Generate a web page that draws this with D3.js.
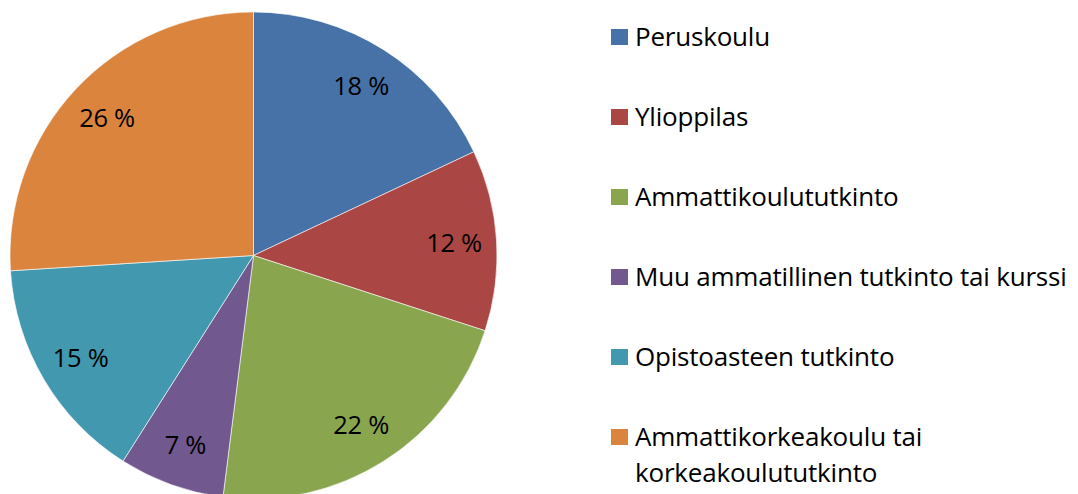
<!DOCTYPE html>
<html><head><meta charset="utf-8">
<script src="https://cdn.jsdelivr.net/npm/d3@7"></script>
<style>body{margin:0;background:#fff;}svg{display:block;}</style>
</head><body>
<svg id="c" width="1078" height="494"></svg>
<script>
const categories = ["Peruskoulu","Ylioppilas","Ammattikoulututkinto","Muu ammatillinen tutkinto tai kurssi","Opistoasteen tutkinto","Ammattikorkeakoulu tai korkeakoulututkinto"];
const legendLines = [["Peruskoulu"],["Ylioppilas"],["Ammattikoulututkinto"],["Muu ammatillinen tutkinto tai kurssi"],["Opistoasteen tutkinto"],["Ammattikorkeakoulu tai","korkeakoulututkinto"]];
const values = [18,12,22,7,15,26];
const colors = ["#4672a8","#aa4644","#89a54e","#71588f","#4198af","#db843d"];

const svg = d3.select("#c");
const cx = 253.5, cy = 255.5, r = 243.5;
const font = "'Open Sans', sans-serif";
const pie = d3.pie().sort(null).value(d=>d)(values);
const arc = d3.arc().innerRadius(0).outerRadius(r);
const labelArc = d3.arc().innerRadius(r*0.825).outerRadius(r*0.825);
const g = svg.append("g").attr("transform",`translate(${cx},${cy})`);
g.selectAll("path").data(pie).join("path")
  .attr("d",arc).attr("fill",(d,i)=>colors[i])
  .attr("stroke","#ffffff").attr("stroke-opacity",0.6).attr("stroke-width",1);
g.selectAll("text").data(pie).join("text")
  .attr("transform",d=>`translate(${labelArc.centroid(d)})`)
  .attr("text-anchor","middle").attr("dy","0.36em")
  .attr("font-family",font).attr("font-size",25.5).attr("fill","#000")
  .attr("letter-spacing",-0.3)
  .text(d=>d.data+" %");

const y = d3.scalePoint().domain(d3.range(categories.length)).range([37,437]);
const lg = svg.selectAll("g.leg").data(categories).join("g").attr("class","leg")
  .attr("transform",(d,i)=>`translate(611,${y(i)})`);
lg.append("rect").attr("x",0).attr("y",-8).attr("width",17).attr("height",16).attr("fill",(d,i)=>colors[i]);
lg.append("text").attr("x",24).attr("y",0)
  .attr("font-family",font).attr("font-size",26).attr("fill","#000")
  .attr("letter-spacing",-0.2)
  .selectAll("tspan").data((d,i)=>legendLines[i]).join("tspan")
  .attr("x",24).attr("dy",(d,j)=>j===0?"0.36em":36).text(d=>d);
</script>
</body></html>
